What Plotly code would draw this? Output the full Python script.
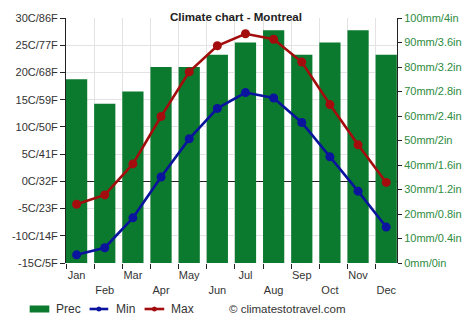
import plotly.graph_objects as go

months = ["Jan", "Feb", "Mar", "Apr", "May", "Jun", "Jul", "Aug", "Sep", "Oct", "Nov", "Dec"]
prec_mm = [75, 65, 70, 80, 80, 85, 90, 95, 85, 90, 95, 85]
temp_min = [-13.5, -12.2, -6.7, 0.8, 7.8, 13.4, 16.3, 15.3, 10.8, 4.5, -1.8, -8.4]
temp_max = [-4.2, -2.5, 3.2, 11.9, 20.1, 24.9, 27.1, 26.1, 21.9, 14.1, 6.7, -0.2]

left_vals = [-15, -10, -5, 0, 5, 10, 15, 20, 25, 30]
left_text = ["-15C/5F", "-10C/14F", "-5C/23F", "0C/32F", "5C/41F", "10C/50F",
             "15C/59F", "20C/68F", "25C/77F", "30C/86F"]
right_vals = [0, 10, 20, 30, 40, 50, 60, 70, 80, 90, 100]
right_text = ["0mm/0in", "10mm/0.4in", "20mm/0.8in", "30mm/1.2in", "40mm/1.6in", "50mm/2in",
              "60mm/2.4in", "70mm/2.8in", "80mm/3.2in", "90mm/3.6in", "100mm/4in"]

BAR_W = 0.754
xpos = [i + BAR_W / 2 for i in range(len(months))]
xlabels = [m if i % 2 == 0 else "<br>" + m for i, m in enumerate(months)]

GREEN = "#0b7a2f"
BLUE = "#0a149c"
RED = "#a30d0d"
FONT = "Liberation Sans, Arial, sans-serif"

W, H = 474, 331
L, R, T, B = 60, 77, 18, 68
PW, PH = W - L - R, H - T - B


def px(x):
    return (x - L) / PW


def py(y):
    return (H - B - y) / PH


fig = go.Figure()
fig.add_trace(go.Bar(x=xpos, y=prec_mm, width=BAR_W, name="Prec",
                     marker=dict(color=GREEN, line=dict(width=0)), yaxis="y"))
fig.add_trace(go.Scatter(x=xpos, y=temp_min, name="Min", mode="lines+markers", yaxis="y2",
                         line=dict(color=BLUE, width=2.6), marker=dict(size=9, color=BLUE)))
fig.add_trace(go.Scatter(x=xpos, y=temp_max, name="Max", mode="lines+markers", yaxis="y2",
                         line=dict(color=RED, width=2.6), marker=dict(size=9, color=RED)))

fig.update_layout(
    width=W, height=H,
    margin=dict(l=L, r=R, t=T, b=B),
    paper_bgcolor="white", plot_bgcolor="white",
    font=dict(family=FONT, size=11, color="#333333"),
    title=dict(text="<b>Climate chart - Montreal</b>", x=236 / W, xanchor="center", y=1 - 16.7 / H,
               yanchor="middle", font=dict(size=11.6, color="#222222", family=FONT)),
    showlegend=False,
    xaxis=dict(range=[0, 11.76], tickvals=xpos, ticktext=xlabels, ticks="outside", ticklen=2,
               tickcolor="rgba(0,0,0,0)", showgrid=False,
               showline=False, zeroline=False, tickfont=dict(size=11, color="#333333"),
               minor=dict(tick0=0, dtick=1, ticks="outside", ticklen=5, tickcolor="#222222",
                          showgrid=True, gridcolor="#e3e3e3", gridwidth=1)),
    yaxis=dict(range=[0, 100], tickvals=right_vals, ticktext=right_text, side="right",
               ticks="outside", ticklen=4, tickcolor="#222222", showline=True, linecolor="#222222",
               linewidth=1, showgrid=False, zeroline=False, tickfont=dict(size=11, color="#2e8b40")),
    yaxis2=dict(range=[-15, 30], tickvals=left_vals, ticktext=left_text, overlaying="y", side="left",
                ticks="outside", ticklen=5,
                tickcolor="#222222", showline=True, linecolor="#222222", linewidth=1,
                showgrid=True, gridcolor="#e3e3e3", zeroline=True, zerolinecolor="#222222",
                zerolinewidth=1, tickfont=dict(size=11, color="#333333")),
    barmode="overlay",
)

# legend drawn by hand to match the reference's symbol shapes
legend_y = 309
fig.add_shape(type="rect", xref="paper", yref="paper", x0=px(23), x1=px(43), y0=py(312.5), y1=py(305.5),
              fillcolor=GREEN, line=dict(width=0))
for (x0, x1, col) in [(84, 103, BLUE), (140, 160, RED)]:
    fig.add_shape(type="line", xref="paper", yref="paper", x0=px(x0), x1=px(x1), y0=py(legend_y),
                  y1=py(legend_y), line=dict(color=col, width=2.6))
    cx = (x0 + x1) / 2
    fig.add_shape(type="circle", xref="paper", yref="paper", x0=px(cx - 2.5), x1=px(cx + 2.5),
                  y0=py(legend_y + 2.5), y1=py(legend_y - 2.5), fillcolor=col, line=dict(width=0))
for (x, txt) in [(48, "Prec"), (109, "Min"), (165, "Max")]:
    fig.add_annotation(text=txt, xref="paper", yref="paper", x=px(x), y=py(legend_y), xanchor="left",
                       yanchor="middle", showarrow=False, font=dict(size=12, color="#333333", family=FONT))

fig.add_annotation(text="© climatestotravel.com", xref="paper", yref="paper", x=px(224),
                   y=py(309), xanchor="left", yanchor="middle", showarrow=False,
                   font=dict(size=11.5, color="#333333", family=FONT))

fig.write_html("out.html")
